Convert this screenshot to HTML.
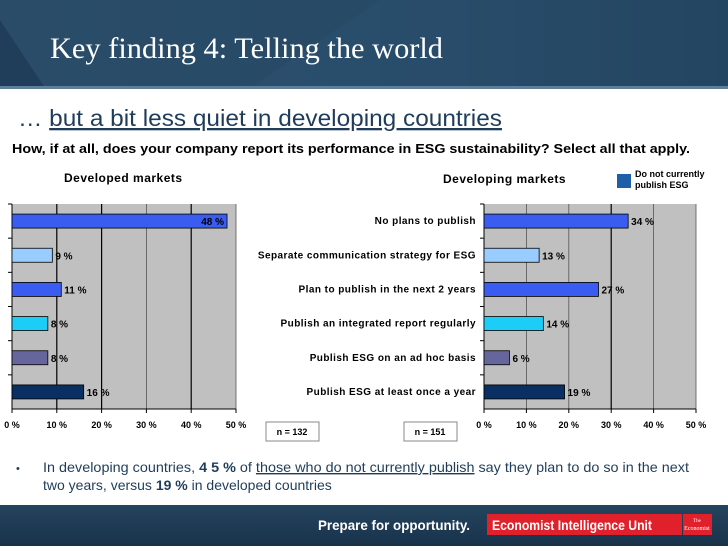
<!DOCTYPE html>
<html><head><meta charset="utf-8">
<style>
body{margin:0;width:728px;height:546px;overflow:hidden;background:#fff;font-family:"Liberation Sans",sans-serif}
</style></head>
<body>
<svg id="s" width="728" height="546" xmlns="http://www.w3.org/2000/svg">
<defs>
<linearGradient id="hg" x1="0" y1="0" x2="1" y2="0"><stop offset="0" stop-color="#2a4c68"/><stop offset="0.5" stop-color="#274a67"/><stop offset="1" stop-color="#1f3d58"/></linearGradient>
<linearGradient id="fg" x1="0" y1="0" x2="0" y2="1"><stop offset="0" stop-color="#25445f"/><stop offset="1" stop-color="#18324b"/></linearGradient>
</defs>
<g>
<rect x="0" y="0" width="728" height="88" fill="url(#hg)"/>
<polygon points="0,0 0,20 45,88 0,88" fill="#1b3650" opacity="0.6"/>
<polygon points="380,0 728,0 728,88 250,88" fill="#2f5676" opacity="0.35"/>
<rect x="0" y="86" width="728" height="3" fill="#5f7f98"/>
<text x="50" y="58" fill="#fff" font-family="Liberation Serif,serif" font-size="30" textLength="393" lengthAdjust="spacingAndGlyphs">Key finding 4: Telling the world</text>
</g>
<text x="18" y="126" font-size="23" fill="#1f3d5a" textLength="484" lengthAdjust="spacingAndGlyphs">… <tspan text-decoration="underline">but a bit less quiet in developing countries</tspan></text>
<text x="12" y="153" font-size="12.5" font-weight="bold" fill="#000" textLength="678" lengthAdjust="spacingAndGlyphs">How, if at all, does your company report its performance in ESG sustainability? Select all that apply.</text>
<text x="64" y="182" font-size="12" font-weight="bold" letter-spacing="0.5">Developed markets</text>
<text x="443" y="183" font-size="12" font-weight="bold" letter-spacing="0.5">Developing markets</text>
<g>
<rect x="617" y="174" width="14" height="14" fill="#1f5fa8"/>
<text x="635" y="177" font-size="9" font-weight="bold">Do not currently</text>
<text x="635" y="188" font-size="9" font-weight="bold">publish ESG</text>
</g>
<g id="charts"></g>
<g><rect x="266" y="422" width="53" height="19" fill="#fff" stroke="#888"/><text x="292" y="435" font-size="9" font-weight="bold" text-anchor="middle">n = 132</text></g>
<g><rect x="404" y="422" width="53" height="19" fill="#fff" stroke="#888"/><text x="430" y="435" font-size="9" font-weight="bold" text-anchor="middle">n = 151</text></g>
<g>
<text x="16" y="472" font-size="11" fill="#1f3d5a">•</text>
<text x="43" y="472" font-size="14" fill="#1f3d5a" textLength="646" lengthAdjust="spacingAndGlyphs">In developing countries, <tspan font-weight="bold">4 5 %</tspan> of <tspan text-decoration="underline">those who do not currently publish</tspan> say they plan to do so in the next</text>
<text x="43" y="490" font-size="14" fill="#1f3d5a">two years, versus <tspan font-weight="bold">19 %</tspan> in developed countries</text>
</g>
<g>
<rect x="0" y="505" width="728" height="41" fill="url(#fg)"/>
<text x="318" y="530" fill="#fff" font-size="14" font-weight="bold" textLength="152" lengthAdjust="spacingAndGlyphs">Prepare for opportunity.</text>
<rect x="487" y="514" width="195" height="21" fill="#e0202a"/>
<text x="492" y="530" fill="#fff" font-size="14" font-weight="bold" textLength="160" lengthAdjust="spacingAndGlyphs">Economist Intelligence Unit</text>
<rect x="683" y="514" width="29" height="21" fill="#e0202a"/>
<text x="697" y="522" fill="#fff" font-size="5" text-anchor="middle" font-family="Liberation Serif,serif">The</text>
<text x="697" y="530" fill="#fff" font-size="6" text-anchor="middle" font-family="Liberation Serif,serif">Economist</text>
</g>
</svg>
<script>
const categories=["No plans to publish","Separate communication strategy for ESG","Plan to publish in the next 2 years","Publish an integrated report regularly","Publish ESG on an ad hoc basis","Publish ESG at least once a year"];
const developedValues=[48,9,11,8,8,16];
const developingValues=[34,13,27,14,6,19];
const tickValues=[0,10,20,30,40,50];
const tickLabels=["0 %","10 %","20 %","30 %","40 %","50 %"];
const colors=["#3a5cf0","#99ccff","#3a5cf0","#1ccdf8","#66669c","#0a2f63"];
const NS="http://www.w3.org/2000/svg";
const root=document.getElementById('charts');
function mk(t,a,p){const e=document.createElementNS(NS,t);for(const k in a)e.setAttribute(k,a[k]);(p||root).appendChild(e);return e;}
function chart(name,x0,x1,y0,y1,values,showCats,darkTicks){
  const g=mk('g',{});
  
  
  const xs=v=>x0+(x1-x0)*v/50;
  const band=(y1-y0)/categories.length;
  const yc=i=>y0+band*(i+0.5);
  const bg=mk('rect',{x:x0,y:y0,width:x1-x0,height:y1-y0,fill:'#c0c0c0'},g);
  
  
  tickValues.forEach((t,i)=>{
    if(t>0){const dk=darkTicks.includes(t);const l=mk('line',{x1:xs(t),x2:xs(t),y1:y0,y2:y1,stroke:dk?'#000':'#555','stroke-width':dk?1.2:0.8},g);
    
    }
    mk('line',{x1:xs(t),x2:xs(t),y1:y1,y2:y1+4,stroke:'#000'},g);
    const tx=mk('text',{x:xs(t),y:y1+19,'font-size':9,'font-weight':'bold','text-anchor':'middle'},g);
    tx.textContent=tickLabels[i];
    
    
  });
  mk('line',{x1:x0,x2:x1,y1:y1,y2:y1,stroke:'#000'},g);
  mk('line',{x1:x0,x2:x0,y1:y0,y2:y1,stroke:'#000'},g);
  values.forEach((v,i)=>{
    mk('line',{x1:x0-4,x2:x0,y1:y0+band*i,y2:y0+band*i,stroke:'#000'},g);
    const b=mk('rect',{x:x0,y:yc(i)-7,width:xs(v)-x0,height:14,fill:colors[i],stroke:'#000','stroke-width':0.8},g);
    
    
    const inside=v>45;
    const lb=mk('text',{x:inside?xs(v)-3:xs(v)+3,y:yc(i)+4,'font-size':10,'font-weight':'bold','text-anchor':inside?'end':'start'},g);
    lb.textContent=v+' %';
    
    
    if(showCats){
      const c=mk('text',{x:x0-8,y:yc(i)+3,'font-size':10,'font-weight':'bold','text-anchor':'end','letter-spacing':0.45},g);
      c.textContent=categories[i];
      
      
    }
  });
}
chart('developed-chart',12,236,204,409,developedValues,false,[10,20,40]);
chart('developing-chart',484,696,204,409,developingValues,true,[30]);
</script>
</body></html>
